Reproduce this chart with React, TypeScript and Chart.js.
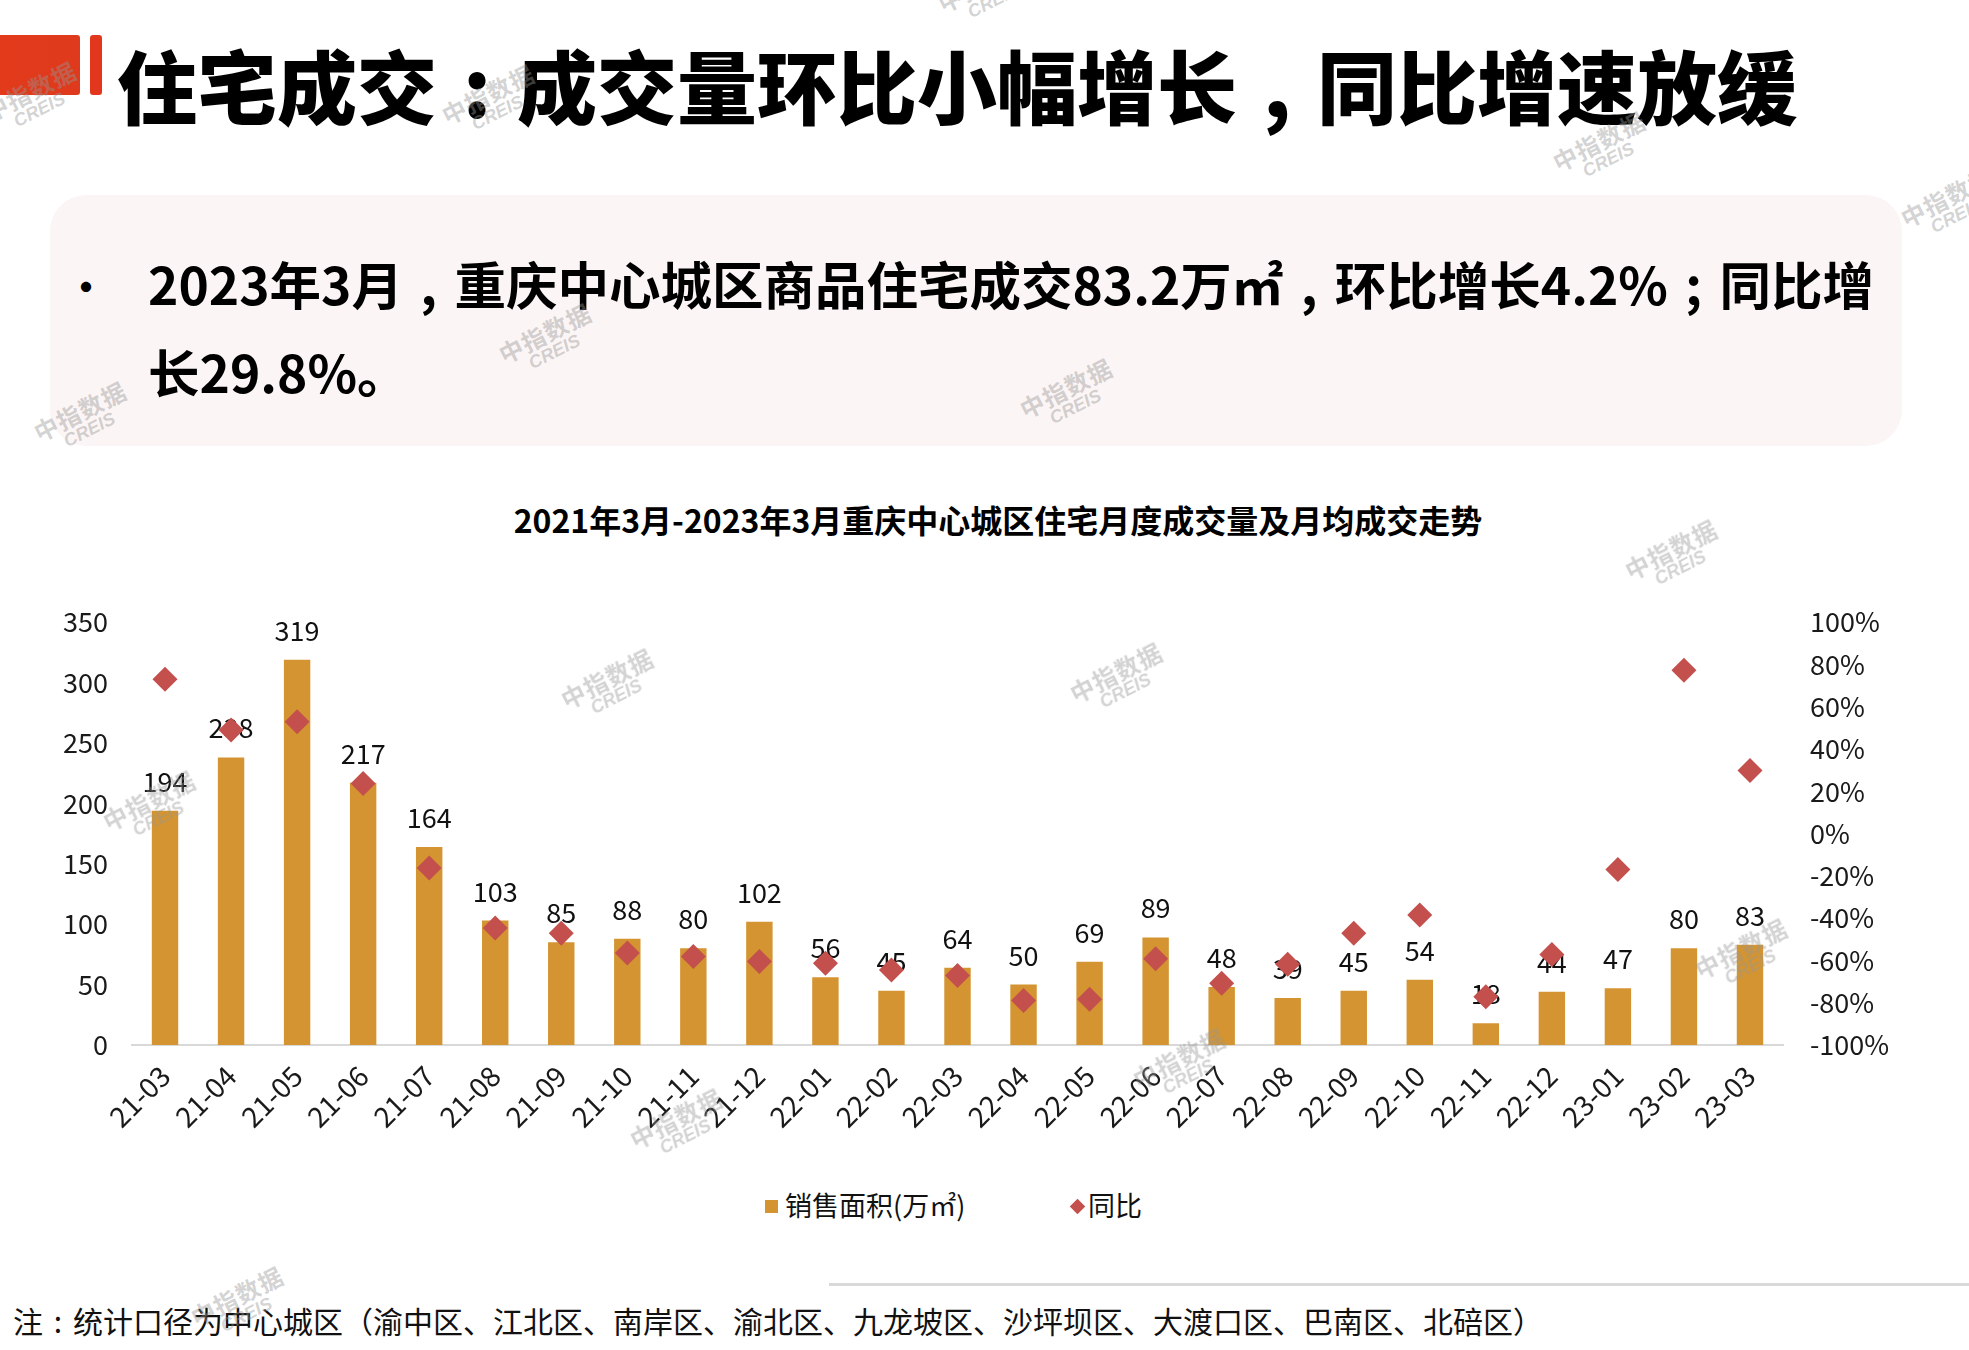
import { useEffect, useRef } from 'react';
import { Chart, registerables } from 'chart.js';

Chart.register(...registerables);

// Monthly categories (YY-MM)
const months = [
  '21-03', '21-04', '21-05', '21-06', '21-07', '21-08', '21-09', '21-10', '21-11', '21-12',
  '22-01', '22-02', '22-03', '22-04', '22-05', '22-06', '22-07', '22-08', '22-09', '22-10',
  '22-11', '22-12', '23-01', '23-02', '23-03',
];

// 销售面积 (万㎡)
const salesArea = [
  194, 238, 319, 217, 164, 103, 85, 88, 80, 102,
  56, 45, 64, 50, 69, 89, 48, 39, 45, 54,
  18, 44, 47, 80, 83,
];

// 同比 (%)
const yoyPct = [
  73, 49, 52.9, 23.7, -16.3, -44.7, -47.1, -56.5, -58.1, -60.5,
  -61.3, -64.5, -67.1, -79, -78.3, -59.2, -70.8, -61.8, -47.1, -38.5,
  -77.2, -57.2, -17, 77.3, 29.8,
];

// Axis ranges
const areaAxis = [0, 350, 50];
const pctAxis = [-100, 100, 20];

const seriesNames = ['销售面积(万㎡)', '同比'];

const BAR_COLOR = '#d39431';
const DIAMOND_COLOR = '#c4504d';
const CJK = '"Noto Sans CJK SC", "Noto Sans", sans-serif';

// Value labels above each bar, painted before the diamonds so they sit underneath
const barValueLabels = {
  id: 'barValueLabels',
  afterDatasetDraw(chart: any, args: any) {
    if (args.index !== 0) return;
    const ctx = chart.ctx;
    ctx.save();
    ctx.font = `27px ${CJK}`;
    ctx.fillStyle = '#111';
    ctx.textAlign = 'center';
    ctx.textBaseline = 'alphabetic';
    args.meta.data.forEach((bar: any, i: number) => {
      ctx.fillText(String(salesArea[i]), bar.x, bar.y - 19);
    });
    ctx.restore();
  },
};

const watermarks: Array<[number, number]> = [
  [38, 107], [496, 110], [992, -2], [1607, 157], [1955, 213],
  [553, 349], [1074, 404], [88, 427], [1679, 565], [615, 694],
  [1124, 688], [157, 816], [1749, 964], [1187, 1074], [684, 1134], [245, 1312],
];

function Watermark({ x, y }: { x: number; y: number }) {
  return (
    <div
      style={{
        position: 'absolute',
        left: x - 60,
        top: y - 30,
        width: 120,
        height: 60,
        transform: 'rotate(-27deg)',
        color: 'rgba(150,150,150,0.42)',
        textAlign: 'center',
        fontFamily: CJK,
        pointerEvents: 'none',
        lineHeight: 1,
      }}
    >
      <div style={{ fontSize: 24, fontWeight: 700, letterSpacing: 1 }}>中指数据</div>
      <div style={{ fontSize: 18, fontWeight: 700, fontStyle: 'italic', fontFamily: '"Liberation Sans", Arial, sans-serif' }}>CREIS</div>
    </div>
  );
}

// A punctuation mark centred in a full-width cell
function P({ children }: { children: string }) {
  return (
    <span style={{ display: 'inline-block', width: '1em', textAlign: 'center' }}>{children}</span>
  );
}

export default function App() {
  const canvasRef = useRef<HTMLCanvasElement | null>(null);

  useEffect(() => {
    if (!canvasRef.current) return;
    Chart.defaults.font.family = CJK;
    const chart = new Chart(canvasRef.current, {
      type: 'bar',
      data: {
        labels: months,
        datasets: [
          {
            type: 'bar',
            label: seriesNames[0],
            data: salesArea,
            backgroundColor: BAR_COLOR,
            barPercentage: 0.4,
            categoryPercentage: 1,
            yAxisID: 'y',
            order: 1,
          },
          {
            type: 'line',
            label: seriesNames[1],
            data: yoyPct,
            showLine: false,
            pointStyle: 'rectRot',
            pointRadius: 12.5,
            pointBorderWidth: 0,
            pointBackgroundColor: DIAMOND_COLOR,
            pointBorderColor: DIAMOND_COLOR,
            yAxisID: 'y1',
            order: 0,
          },
        ],
      },
      options: {
        animation: false,
        responsive: false,
        devicePixelRatio: 1,
        layout: { padding: { top: 16, left: 0, right: 0, bottom: 0 } },
        plugins: {
          legend: { display: false },
          title: { display: false },
          tooltip: { enabled: false },
        },
        scales: {
          x: {
            grid: { display: false },
            border: { display: true, color: '#d9d9d9', width: 2 },
            ticks: {
              color: '#1a1a1a',
              font: { size: 28 },
              maxRotation: 45,
              minRotation: 45,
              autoSkip: false,
              padding: 6,
            },
            afterFit(scale: any) {
              scale.height = 102;
            },
          },
          y: {
            position: 'left',
            min: areaAxis[0],
            max: areaAxis[1],
            grid: { display: false },
            border: { display: false },
            ticks: {
              stepSize: areaAxis[2],
              color: '#1a1a1a',
              font: { size: 27 },
              padding: 16,
            },
            afterFit(scale: any) {
              scale.width = 112;
            },
          },
          y1: {
            position: 'right',
            min: pctAxis[0],
            max: pctAxis[1],
            grid: { display: false },
            border: { display: false },
            ticks: {
              stepSize: pctAxis[2],
              color: '#1a1a1a',
              font: { size: 27 },
              padding: 19,
              callback: (v: any) => `${v}%`,
            },
            afterFit(scale: any) {
              scale.width = 117;
            },
          },
        },
      },
      plugins: [barValueLabels],
    });
    return () => chart.destroy();
  }, []);

  return (
    <div
      style={{
        position: 'absolute',
        left: 0,
        top: 0,
        width: 1969,
        height: 1350,
        background: '#ffffff',
        overflow: 'hidden',
        fontFamily: CJK,
        color: '#000',
      }}
    >
      {/* header marks */}
      <div style={{ position: 'absolute', left: 0, top: 35, width: 80, height: 60, background: 'linear-gradient(90deg,#e23a1b,#df3a1d)', borderRadius: '0 3px 3px 0' }} />
      <div style={{ position: 'absolute', left: 90, top: 35, width: 12, height: 60, background: '#e3371d', borderRadius: 3 }} />

      <div
        style={{
          position: 'absolute',
          left: 117,
          top: 43,
          fontSize: 80,
          lineHeight: 1,
          fontWeight: 900,
          whiteSpace: 'nowrap',
        }}
      >
        住宅成交<P>:</P>成交量环比小幅增长<P>,</P>同比增速放缓
      </div>

      {/* summary box */}
      <div
        style={{
          position: 'absolute',
          left: 50,
          top: 195,
          width: 1852,
          height: 251,
          background: '#fcf5f5',
          borderRadius: 36,
        }}
      />
      <div style={{ position: 'absolute', left: 66, top: 241, fontSize: 40, lineHeight: '88px', fontWeight: 700 }}>•</div>
      <div
        style={{
          position: 'absolute',
          left: 148,
          top: 239,
          fontSize: 51.5,
          lineHeight: '88px',
          fontWeight: 700,
          whiteSpace: 'nowrap',
        }}
      >
        <div>
          2023年3月<P>,</P>重庆中心城区商品住宅成交83.2万㎡<P>,</P>环比增长4.2%<P>;</P>同比增
        </div>
        <div>长29.8%。</div>
      </div>

      {/* chart title */}
      <div
        style={{
          position: 'absolute',
          left: 0,
          width: 1996,
          top: 503,
          textAlign: 'center',
          fontSize: 32,
          lineHeight: 1,
          fontWeight: 700,
          whiteSpace: 'nowrap',
        }}
      >
        2021年3月-2023年3月重庆中心城区住宅月度成交量及月均成交走势
      </div>

      <canvas
        ref={canvasRef}
        width={1880}
        height={560}
        style={{ position: 'absolute', left: 20, top: 587, width: 1880, height: 560 }}
      />

      {/* legend */}
      <div style={{ position: 'absolute', left: 765, top: 1200, width: 13, height: 13, background: BAR_COLOR }} />
      <div style={{ position: 'absolute', left: 785, top: 1191, fontSize: 27, lineHeight: 1, whiteSpace: 'nowrap', color: '#111' }}>
        {seriesNames[0]}
      </div>
      <div style={{ position: 'absolute', left: 1072, top: 1201, width: 11, height: 11, background: DIAMOND_COLOR, transform: 'rotate(45deg)' }} />
      <div style={{ position: 'absolute', left: 1088, top: 1191, fontSize: 27, lineHeight: 1, whiteSpace: 'nowrap', color: '#111' }}>
        {seriesNames[1]}
      </div>

      {/* footnote */}
      <div style={{ position: 'absolute', left: 829, top: 1283, width: 1140, height: 3, background: '#d9d9d9' }} />
      <div
        style={{
          position: 'absolute',
          left: 13,
          top: 1305,
          fontSize: 30,
          lineHeight: 1,
          whiteSpace: 'nowrap',
          color: '#111',
        }}
      >
        注<P>:</P>统计口径为中心城区（渝中区、江北区、南岸区、渝北区、九龙坡区、沙坪坝区、大渡口区、巴南区、北碚区）
      </div>

      {watermarks.map(([x, y], i) => (
        <Watermark key={i} x={x} y={y} />
      ))}
    </div>
  );
}
